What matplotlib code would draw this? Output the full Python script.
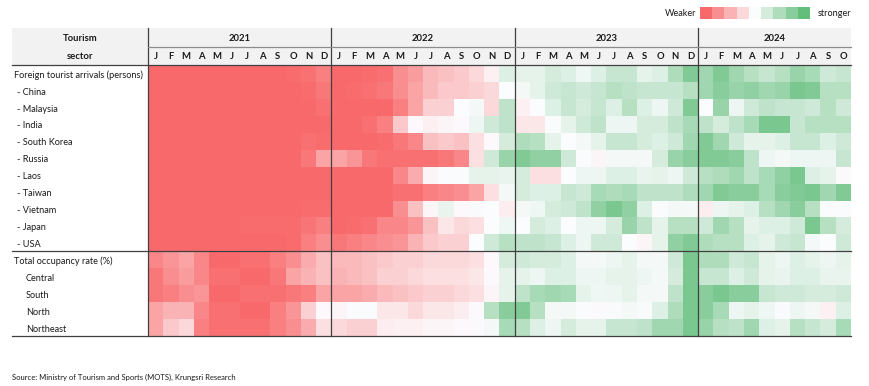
import numpy as np
import matplotlib
matplotlib.use("Agg")
import matplotlib.pyplot as plt
from matplotlib.colors import LinearSegmentedColormap
from matplotlib.patches import Rectangle

plt.rcParams['font.family'] = ['Lato', 'DejaVu Sans']

# row labels (indent level: 0 = group, 1 = "- item", 2 = region)
rows = ["Foreign tourist arrivals (persons)", "- China", "- Malaysia", "- India",
        "- South Korea", "- Russia", "- Laos", "- Taiwan", "- Vietnam", "- Japan",
        "- USA", "Total occupancy rate (%)", "Central", "South", "North", "Northeast"]
indent = [0, 1, 1, 1, 1, 1, 1, 1, 1, 1, 1, 0, 2, 2, 2, 2]

years = ["2021", "2022", "2023", "2024"]
months_per_year = [12, 12, 12, 10]
month_letters = ["J", "F", "M", "A", "M", "J", "J", "A", "S", "O", "N", "D"]

# score: -1 = weaker (red), 0 = neutral, +1 = stronger (green)
score_2021 = [
    [-1, -1, -1, -1, -1, -1, -1, -1, -1, -0.97, -0.93, -0.85],
    [-1, -1, -1, -1, -1, -1, -1, -1, -1, -1, -0.97, -0.9],
    [-1, -1, -1, -1, -1, -1, -1, -1, -1, -1, -1, -0.95],
    [-1, -1, -1, -1, -1, -1, -1, -1, -1, -1, -1, -1],
    [-1, -1, -1, -1, -1, -1, -1, -1, -1, -1, -0.95, -0.97],
    [-1, -1, -1, -1, -1, -1, -1, -1, -1, -1, -0.9, -0.6],
    [-1, -1, -1, -1, -1, -1, -1, -1, -1, -1, -1, -1],
    [-1, -1, -1, -1, -1, -1, -1, -1, -1, -1, -1, -1],
    [-1, -1, -1, -1, -1, -1, -1, -1, -1, -1, -0.97, -0.97],
    [-1, -1, -1, -1, -1, -1, -0.97, -0.97, -0.97, -0.97, -0.92, -0.85],
    [-1, -1, -1, -1, -1, -1, -1, -1, -1, -0.97, -0.85, -0.75],
    [-0.8, -0.7, -0.6, -0.8, -1, -1, -0.95, -0.95, -0.85, -0.75, -0.55, -0.4],
    [-0.9, -0.75, -0.65, -0.8, -0.95, -0.95, -1, -1, -0.9, -0.6, -0.5, -0.4],
    [-0.9, -0.85, -0.75, -0.7, -1, -1, -0.95, -0.95, -0.95, -0.9, -0.85, -0.6],
    [-0.6, -0.5, -0.5, -0.8, -0.95, -0.95, -1, -1, -0.85, -0.7, -0.3, -0.03],
    [-0.6, -0.35, -0.25, -0.85, -0.95, -0.95, -0.95, -0.95, -0.85, -0.75, -0.55, -0.2],
]
score_2022 = [
    [-1, -1, -0.97, -0.95, -0.75, -0.65, -0.45, -0.4, -0.35, -0.25, -0.08, 0.2],
    [-1, -0.97, -0.95, -0.9, -0.75, -0.6, -0.45, -0.35, -0.35, -0.3, -0.25, 0.0],
    [-1, -1, -1, -1, -0.85, -0.6, -0.3, -0.3, 0.0, 0.05, -0.25, 0.4],
    [-1, -1, -0.95, -0.85, -0.35, -0.03, -0.08, -0.05, -0.03, 0.1, 0.3, 0.4],
    [-1, -1, -1, -0.97, -0.9, -0.8, -0.4, -0.35, -0.4, -0.2, -0.03, 0.25],
    [-0.6, -0.7, -0.9, -0.95, -0.95, -0.95, -0.95, -0.9, -0.8, -0.2, 0.3, 0.65],
    [-1, -1, -1, -1, -0.8, -0.55, -0.05, 0.02, 0.02, 0.15, 0.15, 0.12],
    [-1, -1, -1, -1, -0.95, -0.95, -0.85, -0.8, -0.75, -0.6, -0.2, 0.05],
    [-1, -1, -1, -1, -0.75, -0.4, -0.05, 0.12, -0.03, 0.03, 0.0, -0.1],
    [-1, -0.97, -0.95, -0.8, -0.8, -0.7, -0.4, -0.15, -0.25, -0.2, 0.0, 0.08],
    [-0.9, -0.85, -0.8, -0.75, -0.7, -0.5, -0.35, -0.3, -0.3, 0.0, 0.3, 0.45],
    [-0.45, -0.45, -0.4, -0.35, -0.3, -0.3, -0.25, -0.25, -0.25, -0.2, -0.03, 0.25],
    [-0.5, -0.45, -0.4, -0.3, -0.3, -0.25, -0.2, -0.2, -0.2, -0.15, -0.02, 0.15],
    [-0.6, -0.6, -0.55, -0.45, -0.4, -0.35, -0.3, -0.3, -0.25, -0.2, -0.05, 0.15],
    [-0.05, 0.02, 0.02, -0.15, -0.15, -0.25, -0.15, -0.15, -0.1, -0.02, 0.45, 0.75],
    [-0.25, -0.3, -0.3, -0.1, -0.08, -0.08, -0.05, -0.05, -0.03, -0.02, 0.05, 0.55],
]
score_2023 = [
    [0.15, 0.15, 0.25, 0.2, 0.08, 0.2, 0.35, 0.35, 0.15, 0.2, 0.5, 0.8],
    [0.05, 0.15, 0.3, 0.35, 0.3, 0.35, 0.45, 0.4, 0.35, 0.35, 0.35, 0.45],
    [-0.08, 0.0, 0.2, 0.35, 0.25, 0.35, 0.2, 0.45, 0.2, 0.1, 0.3, 0.8],
    [-0.15, -0.15, 0.02, 0.15, 0.3, 0.4, 0.1, 0.1, 0.25, 0.25, 0.4, 0.55],
    [0.5, 0.45, 0.15, 0.0, 0.05, 0.15, 0.35, 0.35, 0.25, 0.2, 0.3, 0.6],
    [0.8, 0.7, 0.7, 0.3, 0.02, -0.05, 0.05, 0.05, 0.05, 0.25, 0.65, 0.75],
    [0.25, -0.2, -0.2, 0.0, 0.1, 0.1, 0.2, 0.2, 0.12, 0.15, 0.1, 0.3],
    [0.25, 0.2, 0.2, 0.35, 0.3, 0.55, 0.5, 0.55, 0.4, 0.4, 0.4, 0.5],
    [0.05, 0.08, 0.25, 0.3, 0.4, 0.7, 0.85, 0.7, 0.2, 0.02, 0.05, 0.05],
    [0.0, 0.25, 0.2, 0.0, 0.1, 0.1, 0.25, 0.65, 0.4, 0.15, 0.45, 0.45],
    [0.4, 0.4, 0.35, 0.2, 0.1, 0.3, 0.3, 0.0, -0.05, 0.15, 0.7, 0.8],
    [0.3, 0.25, 0.25, 0.2, 0.05, 0.05, 0.1, 0.15, 0.05, 0.05, 0.3, 0.85],
    [0.15, 0.1, 0.2, 0.2, 0.1, 0.1, 0.15, 0.15, 0.1, 0.05, 0.25, 0.85],
    [0.4, 0.55, 0.6, 0.55, 0.15, 0.08, 0.1, 0.15, 0.05, 0.05, 0.4, 0.85],
    [0.8, 0.45, 0.05, 0.05, 0.02, -0.02, 0.03, 0.05, 0.03, 0.2, 0.5, 0.85],
    [0.45, 0.2, 0.1, 0.25, 0.15, 0.15, 0.35, 0.35, 0.4, 0.6, 0.6, 0.85],
]
score_2024 = [
    [0.6, 0.8, 0.6, 0.45, 0.35, 0.45, 0.65, 0.55, 0.3, 0.35],
    [0.6, 0.75, 0.65, 0.7, 0.6, 0.65, 0.85, 0.8, 0.45, 0.45],
    [0.0, 0.65, 0.1, 0.3, 0.4, 0.35, 0.35, 0.3, 0.45, 0.3],
    [0.4, 0.25, 0.4, 0.55, 0.85, 0.85, 0.35, 0.45, 0.45, 0.45],
    [0.8, 0.6, 0.3, 0.15, 0.15, 0.2, 0.35, 0.35, 0.2, 0.3],
    [0.8, 0.8, 0.75, 0.4, 0.1, 0.05, 0.1, 0.1, 0.1, 0.35],
    [0.45, 0.5, 0.6, 0.4, 0.55, 0.7, 0.85, 0.2, 0.15, -0.02],
    [0.6, 0.8, 0.75, 0.75, 0.55, 0.75, 0.8, 0.85, 0.6, 0.8],
    [-0.1, 0.1, 0.15, 0.2, 0.45, 0.6, 0.75, 0.45, 0.02, 0.02],
    [0.3, 0.6, 0.45, 0.15, 0.2, 0.2, 0.3, 0.85, 0.45, 0.25],
    [0.5, 0.45, 0.45, 0.2, 0.15, 0.3, 0.35, 0.05, 0.0, 0.3],
    [0.5, 0.5, 0.3, 0.35, 0.15, 0.1, 0.2, 0.15, 0.1, 0.15],
    [0.35, 0.35, 0.2, 0.3, 0.15, 0.12, 0.2, 0.2, 0.12, 0.12],
    [0.75, 0.85, 0.75, 0.75, 0.35, 0.3, 0.3, 0.25, 0.25, 0.3],
    [0.75, 0.55, 0.1, 0.15, 0.08, 0.03, 0.1, 0.05, -0.08, 0.2],
    [0.65, 0.45, 0.4, 0.6, 0.2, 0.15, 0.45, 0.35, 0.25, 0.55],
]
legend_levels = [-1, -0.75, -0.5, -0.25, 0, 0.25, 0.5, 0.75, 1]

scores = np.hstack([np.array(score_2021), np.array(score_2022),
                    np.array(score_2023), np.array(score_2024)])
n_rows, n_cols = scores.shape

cmap = LinearSegmentedColormap.from_list("krungsri", ["#F8696B", "#FCFCFF", "#63BE7B"])

W, H = 870, 386
fig = plt.figure(figsize=(W / 100, H / 100), dpi=100)

# grid placement in pixels
gx0, gx1, gy0, gy1 = 148, 851, 65, 336
ax = fig.add_axes([gx0 / W, 1 - gy1 / H, (gx1 - gx0) / W, (gy1 - gy0) / H])
ax.pcolormesh(scores, cmap=cmap, vmin=-1, vmax=1)
ax.set_xlim(0, n_cols)
ax.set_ylim(n_rows, 0)
ax.axis("off")

colw = (gx1 - gx0) / n_cols
rowh = (gy1 - gy0) / n_rows
left = -(gx0 - 12) / colw       # left edge of the table
top = -(gy0 - 28) / rowh        # top of the header
ymid = -(gy0 - 47) / rowh       # line between year and month rows

line_c = "#404040"
hdr = Rectangle((left, top), n_cols - left, -top, facecolor="#F2F2F2",
                edgecolor="none", clip_on=False, zorder=0)
ax.add_patch(hdr)

txt = dict(fontsize=6.6, color="#1a1a1a")
bold = dict(fontsize=6.8, color="#1a1a1a", fontweight="bold")

ax.text((left + 0) / 2, (top + ymid) / 2 + 0.05, "Tourism", ha="center", va="center", **bold)
ax.text((left + 0) / 2, ymid / 2 + 0.05, "sector", ha="center", va="center", **bold)

start = 0
for y, n in zip(years, months_per_year):
    ax.text(start + n / 2, (top + ymid) / 2 + 0.05, y, ha="center", va="center", **bold)
    for i in range(n):
        ax.text(start + i + 0.5, ymid / 2 + 0.05, month_letters[i], ha="center",
                va="center", **bold)
    ax.plot([start, start], [top, n_rows], color=line_c, lw=0.9, clip_on=False)
    start += n

ax.plot([0, n_cols], [ymid, ymid], color="#8c8c8c", lw=0.9, clip_on=False)
for yy in [0, 11, n_rows]:
    ax.plot([left, n_cols], [yy, yy], color=line_c, lw=0.9, clip_on=False)

offs = [0.15, 0.35, 0.9]
for i, (lab, ind) in enumerate(zip(rows, indent)):
    ax.text(left + offs[ind], i + 0.6, lab, ha="left", va="center", clip_on=False, **txt)

# legend strip
lax = fig.add_axes([700 / W, 1 - 19 / H, 110 / W, 12 / H])
lax.pcolormesh(np.array([legend_levels]), cmap=cmap, vmin=-1, vmax=1)
lax.axis("off")
fig.text(696 / W, 1 - 14 / H, "Weaker", ha="right", va="center", **txt)
fig.text(818 / W, 1 - 14 / H, "stronger", ha="left", va="center", **txt)

fig.text(12 / W, 1 - 377 / H, "Source: Ministry of Tourism and Sports (MOTS), Krungsri Research",
         ha="left", va="center", fontsize=5.5, color="#1a1a1a")

fig.savefig("out.png", dpi=100)
